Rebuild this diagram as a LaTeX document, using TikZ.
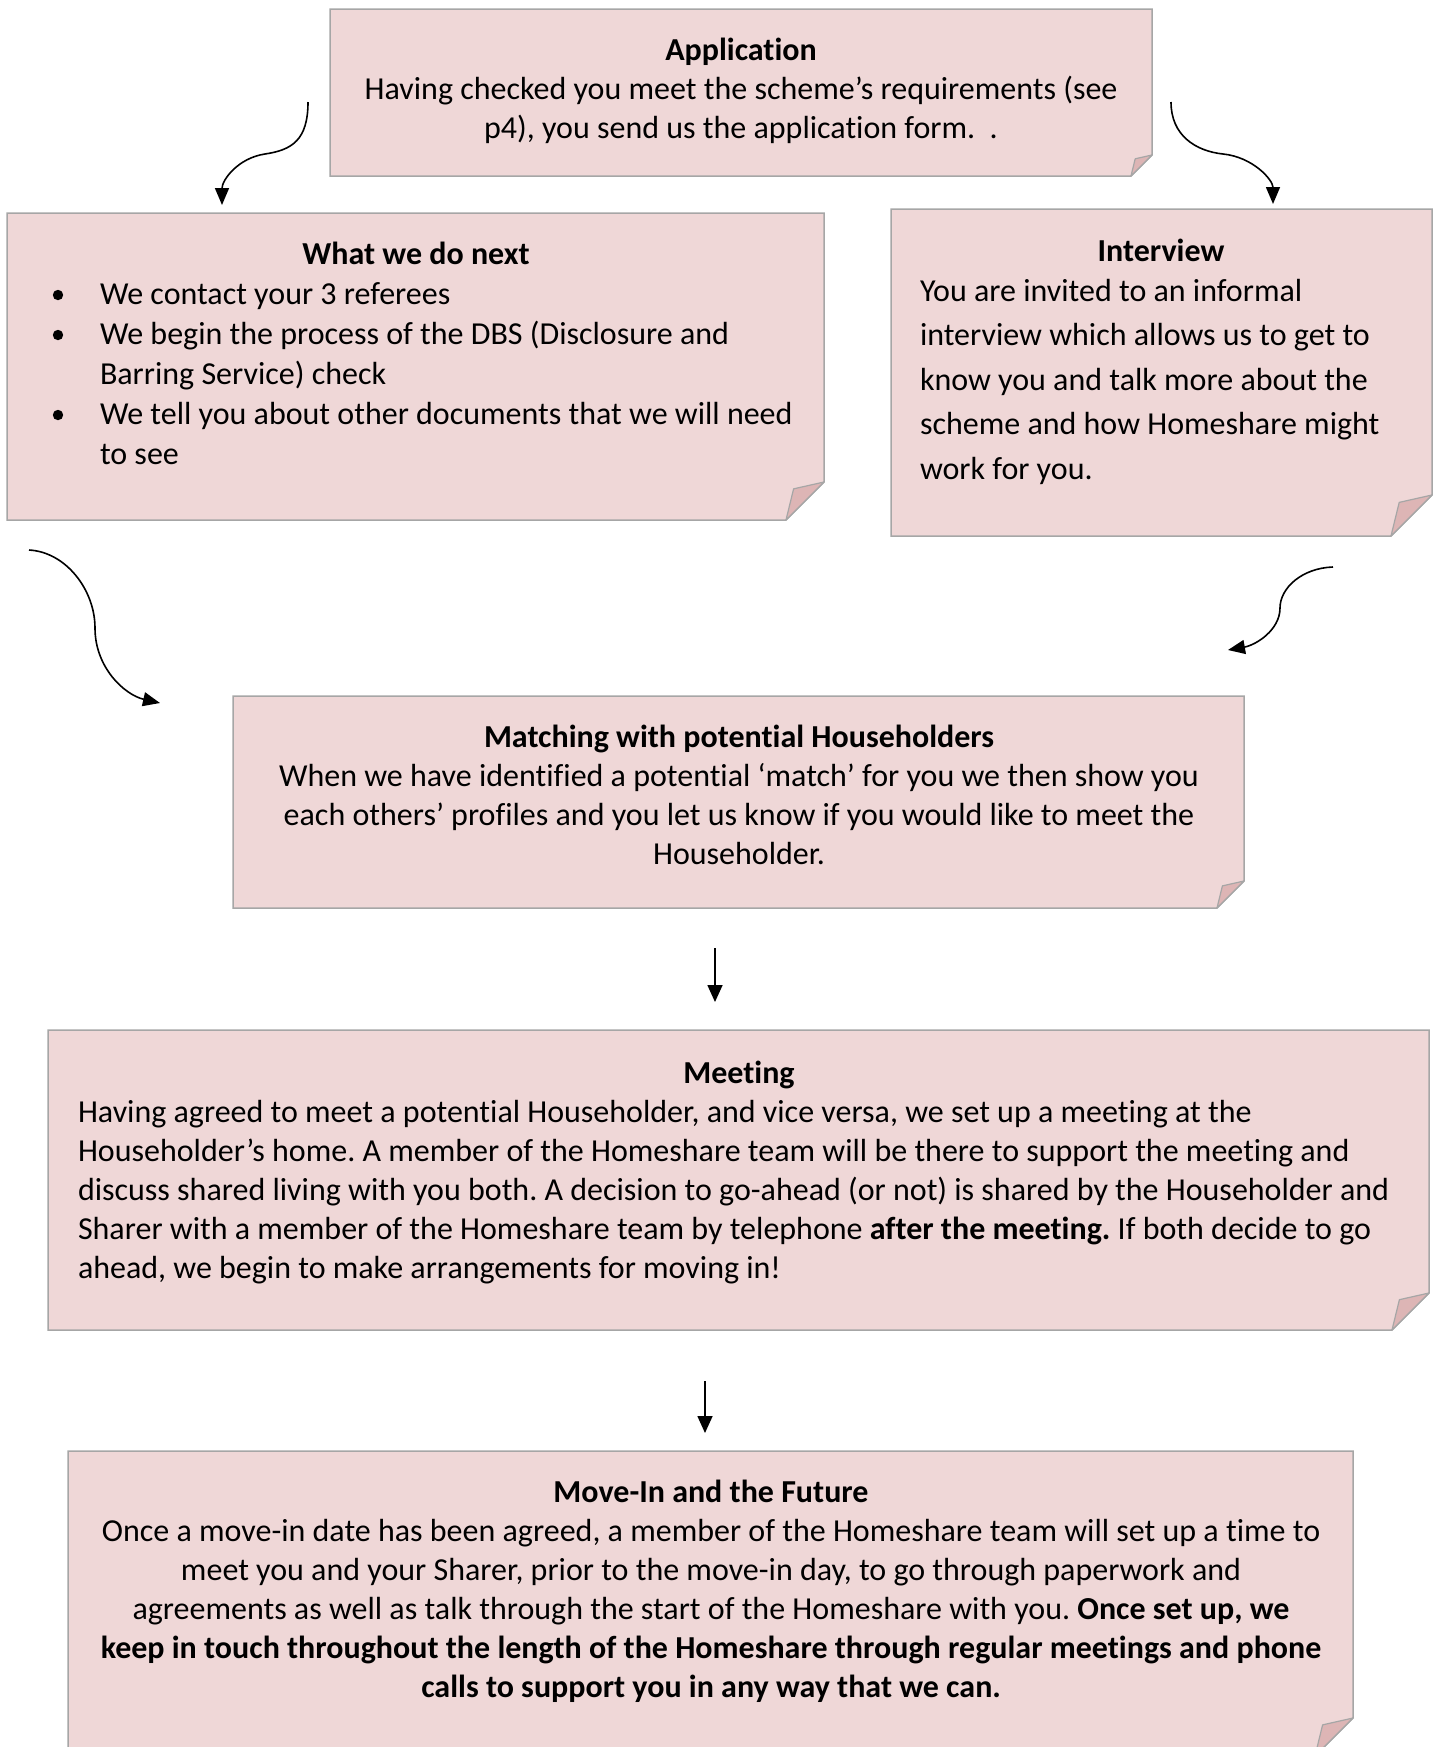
\documentclass[tikz,border=0pt]{standalone}
\usepackage{fontspec}
\setmainfont{Carlito}[Ligatures={NoCommon,NoContextual}]
\usetikzlibrary{arrows.meta}
\definecolor{boxfill}{HTML}{EFD7D7}
\definecolor{foldfill}{HTML}{DDB5B5}
\definecolor{boxline}{HTML}{A6A6A6}
\tikzset{
  box/.style={fill=boxfill, draw=boxline, line width=0.75pt, line join=miter},
  fold/.style={fill=foldfill, draw=boxline, line width=0.6pt, line join=round},
  txt/.style={inner sep=0pt, outer sep=0pt, font=\fontsize{16}{19.5}\selectfont\frenchspacing},
  curvearrow/.style={draw=black, line width=0.8pt, -{Triangle[length=8.5pt,width=7pt]}},
  straightarrow/.style={draw=black, line width=0.8pt, -{Triangle[length=8.5pt,width=7.5pt]}},
  bulletdot/.style={fill=black}
}
\newcommand\stickybox[5]{%
  \path[box] (#1,#2) -- (#3,#2) -- (#3,#4-#5) -- (#3-#5,#4) -- (#1,#4) -- cycle;
  \path[fold] (#3,#4-#5) -- (#3-0.8*#5,#4-0.82*#5) -- (#3-#5,#4) -- cycle;
}
\begin{document}
\begin{tikzpicture}[x=0.5pt,y=-0.5pt]
\clip (0,0) rectangle (1435,1747);
\fill[white] (0,0) rectangle (1435,1747);

% boxes
\stickybox{330}{9}{1152}{176}{21}
\stickybox{7}{213}{824}{520}{38}
\stickybox{891}{209}{1432}{536}{41}
\stickybox{233}{696}{1244}{908}{27}
\stickybox{48}{1030}{1429}{1330}{37}
\stickybox{68}{1451}{1353}{1756}{38}

% Application
\node[txt, align=center, anchor=north] (app) at (741,32.7)
  {\strut\textbf{Application}\\Having checked you meet the scheme’s requirements (see\\p4), you send us the application form.\ \ .};

% What we do next
\node[txt, anchor=base] (nexthead) at (416,264) {\textbf{What we do next}};
\node[txt, font=\fontsize{16}{20}\selectfont\frenchspacing, align=left, anchor=north west] (nextbody) at (100,276.5)
  {\strut We contact your 3 referees\\We begin the process of the DBS (Disclosure and\\Barring Service) check\\We tell you about other documents that we will need\\to see};
\fill[bulletdot] (58,295) circle[radius=2.6pt];
\fill[bulletdot] (58,335) circle[radius=2.6pt];
\fill[bulletdot] (58,415) circle[radius=2.6pt];

% Interview
\node[txt, anchor=base] (inthead) at (1161,261) {\textbf{Interview}};
\node[txt, font=\fontsize{16}{22.3}\selectfont\frenchspacing, align=left, anchor=north west] (intbody) at (920,269.8)
  {\strut You are invited to an informal\\interview which allows us to get to\\know you and talk more about the\\scheme and how Homeshare might\\work for you.};

% Matching
\node[txt, align=center, anchor=north] (match) at (739,719.7)
  {\strut\textbf{Matching with potential Householders}\\When we have identified a potential ‘match’ for you we then show you\\each others’ profiles and you let us know if you would like to meet the\\Householder.};

% Meeting
\node[txt, anchor=base] (meethead) at (739,1083) {\textbf{Meeting}};
\node[txt, align=left, anchor=north west] (meetbody) at (78,1094.7)
  {\strut Having agreed to meet a potential Householder, and vice versa, we set up a meeting at the\\Householder’s home. A member of the Homeshare team will be there to support the meeting and\\discuss shared living with you both. A decision to go-ahead (or not) is shared by the Householder and\\Sharer with a member of the Homeshare team by telephone \textbf{after the meeting.} If both decide to go\\ahead, we begin to make arrangements for moving in!};

% Move-In
\node[txt, align=center, anchor=north] (movein) at (711,1475.2)
  {\strut\textbf{Move-In and the Future}\\Once a move-in date has been agreed, a member of the Homeshare team will set up a time to\\meet you and your Sharer, prior to the move-in day, to go through paperwork and\\agreements as well as talk through the start of the Homeshare with you. \textbf{Once set up, we}\\\textbf{keep in touch throughout the length of the Homeshare through regular meetings and phone}\\\textbf{calls to support you in any way that we can.}};

% arrow end points
\coordinate (a1s) at (308,102);  \coordinate (a1e) at (222,205);
\coordinate (a2s) at (1171,102); \coordinate (a2e) at (1273,204);
\coordinate (a3s) at (29,550);   \coordinate (a3e) at (160,703);
\coordinate (a4s) at (1333,567); \coordinate (a4e) at (1228,650);
\coordinate (a5s) at (715,948);  \coordinate (a5e) at (715,1002);
\coordinate (a6s) at (705,1381); \coordinate (a6e) at (705,1433);

\draw[curvearrow] (a1s) .. controls (308,140) and (292,150) .. (265,154) .. controls (238,158) and (222,180) .. (a1e);
\draw[curvearrow] (a2s) .. controls (1171,135) and (1195,151) .. (1223,154) .. controls (1253,157) and (1273,180) .. (a2e);
\draw[curvearrow] (a3s) .. controls (66,552) and (95,590) .. (95,628) .. controls (95,668) and (125,695) .. (a3e);
\draw[curvearrow] (a4s) .. controls (1302,568) and (1280,588) .. (1280,608) .. controls (1280,630) and (1256,645) .. (a4e);
\draw[straightarrow] (a5s) -- (a5e);
\draw[straightarrow] (a6s) -- (a6e);
\end{tikzpicture}
\end{document}
